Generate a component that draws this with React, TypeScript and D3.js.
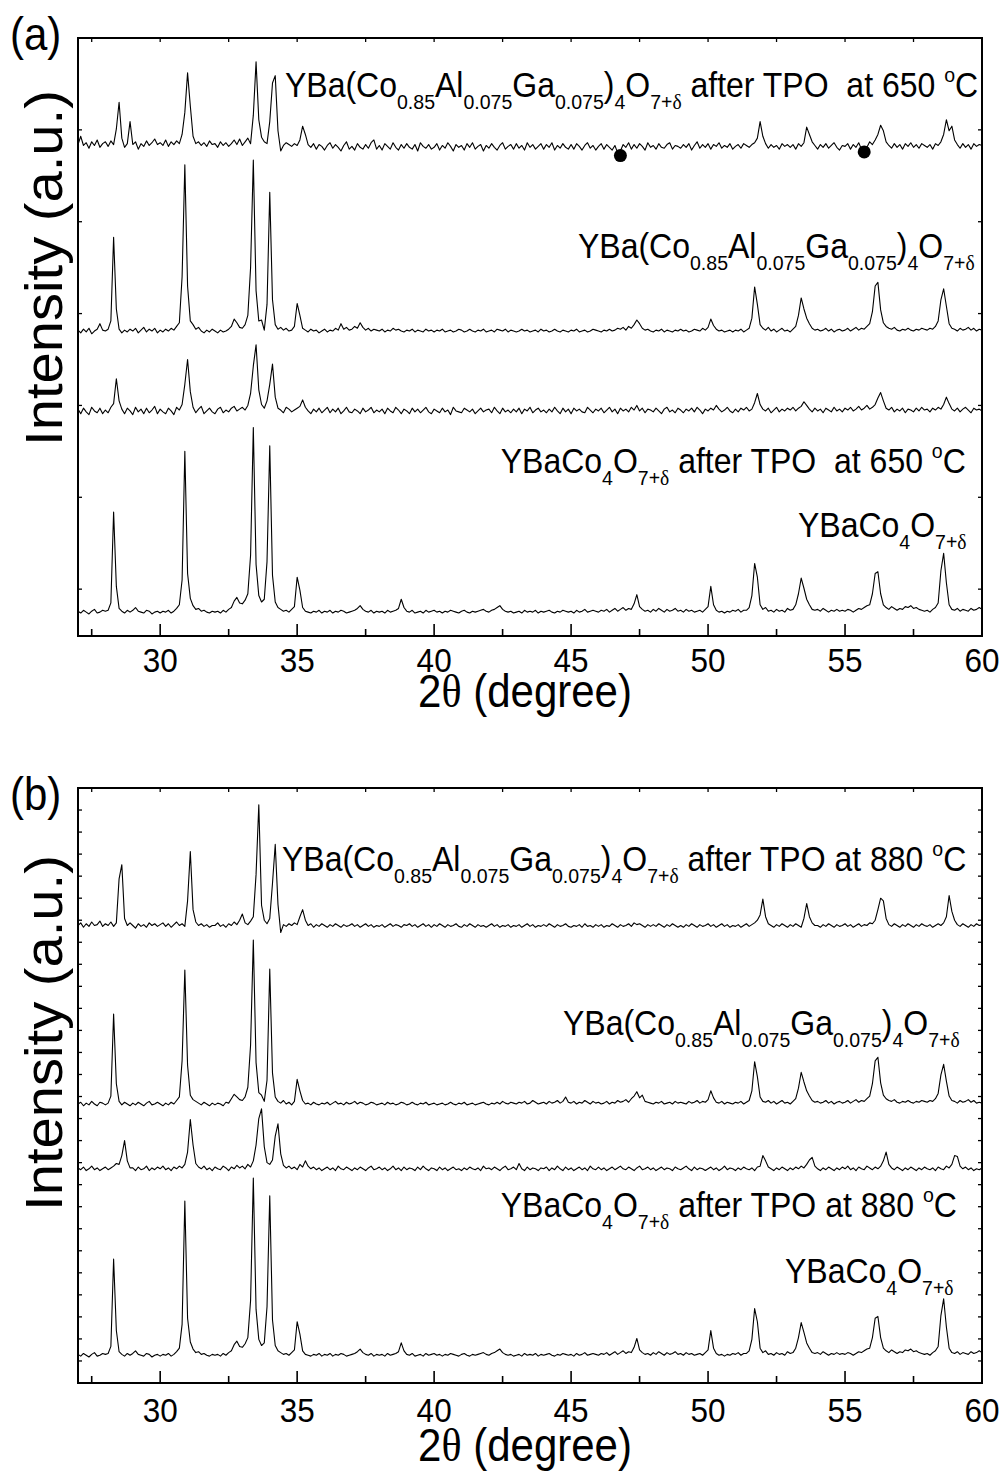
import React from 'react';
import * as d3 from 'd3';

// 2θ sampling of every pattern
const START = 27.0;
const STEP = 0.1;

// Intensities (a.u., relative to each pattern's own baseline), 27.0° … 60.0° every 0.1°
// YBaCo4O7+δ (as prepared) – shown in (a) and (b)
const pristine: number[] = [
  1,-1,2,0,-2,1,3,-1,0,2,
  1,2,10,109,28,4,1,-1,2,0,
  2,5,1,0,-1,2,1,-2,0,1,
  -1,1,0,2,-1,1,4,8,35,175,
  42,15,7,3,4,1,2,0,-1,1,
  0,1,-1,2,0,3,5,12,16,10,
  9,13,20,62,201,52,18,11,14,55,
  181,40,11,5,3,1,2,0,3,6,
  38,24,5,1,0,-1,1,0,2,-1,
  1,0,2,-1,1,0,2,1,-1,0,
  1,2,4,7,3,1,0,2,-1,1,
  0,1,-1,2,0,1,2,4,14,5,
  1,0,2,-1,0,1,-1,2,0,1,
  2,0,1,-1,1,0,2,1,0,-1,
  1,2,0,-1,1,0,1,2,3,1,
  0,2,3,5,7,3,1,0,1,-1,
  0,1,-1,2,0,1,0,2,-1,1,
  0,1,2,0,-1,1,0,2,1,0,
  1,-1,2,0,1,3,0,1,2,1,
  0,2,1,3,0,2,4,1,3,5,
  2,4,3,9,19,6,3,1,2,0,
  3,1,4,2,0,3,1,2,4,1,
  2,0,3,1,2,0,1,2,0,3,
  6,28,8,2,0,1,-1,1,0,2,
  1,3,0,2,2,5,18,53,38,8,
  3,5,1,2,0,3,1,2,0,4,
  2,3,8,20,37,26,14,8,3,2,
  3,1,4,2,0,2,1,3,1,2,
  1,3,2,0,2,4,3,5,7,8,
  20,42,44,20,8,5,3,6,4,2,
  4,3,6,5,7,4,5,3,2,1,
  2,0,3,5,10,45,64,32,8,3,
  2,4,1,3,2,1,4,2,3,5,
  3,
];

// YBa(Co0.85Al0.075Ga0.075)4O7+δ (as prepared) – panel (a)
const alGaA: number[] = [
  2,-1,3,0,4,-2,1,3,9,2,
  1,3,12,103,25,3,-1,2,0,3,
  1,4,-1,2,5,0,3,1,4,-1,
  2,0,3,1,4,2,6,10,60,182,
  50,12,8,3,5,1,-1,2,0,3,
  1,-1,2,0,1,3,6,14,10,5,
  4,8,18,70,187,45,12,13,2,30,
  152,35,8,3,5,2,4,1,2,6,
  31,18,4,2,0,3,1,2,-1,1,
  3,0,2,1,4,2,9,3,5,2,
  3,6,4,10,5,2,4,1,3,2,
  1,3,0,2,1,4,2,3,1,0,
  2,1,3,0,2,1,0,3,1,2,
  0,2,1,3,0,1,2,0,1,3,
  2,0,1,3,1,0,2,1,3,0,
  1,2,0,3,2,1,3,0,2,1,
  0,1,3,1,2,0,1,2,0,3,
  1,2,0,1,3,1,0,2,1,0,
  2,1,3,0,1,2,0,1,3,2,
  1,0,2,1,3,1,2,4,3,5,
  2,6,4,8,13,9,4,2,3,1,
  0,2,1,3,0,2,1,0,2,1,
  3,1,2,0,1,3,2,1,4,2,
  5,14,7,3,1,2,0,1,2,0,
  2,1,3,0,2,4,15,49,30,8,
  4,2,5,1,3,0,2,4,1,2,
  0,3,6,18,37,25,15,9,4,2,
  3,1,2,4,1,3,0,2,3,1,
  2,4,1,3,5,2,4,3,6,9,
  22,50,54,24,10,6,4,3,5,2,
  1,3,2,4,2,1,3,2,4,3,
  2,4,3,6,12,35,47,28,9,4,
  3,1,4,2,3,5,2,4,1,3,
  2,
];

// YBa(Co0.85Al0.075Ga0.075)4O7+δ (as prepared) – panel (b)
const alGaB: number[] = [
  1,3,-1,2,0,4,1,-1,3,2,
  0,2,10,103,24,4,0,3,1,-1,
  2,0,3,1,-1,2,4,0,1,3,
  1,-1,2,0,3,1,5,9,50,153,
  45,11,6,4,2,0,3,1,-1,2,
  0,2,1,-1,3,2,7,12,9,6,
  5,9,20,68,187,48,14,11,4,28,
  154,36,9,4,2,5,1,3,0,4,
  29,16,5,1,2,0,3,1,0,2,
  1,3,0,2,4,1,2,0,3,1,
  2,4,1,3,2,0,1,3,2,0,
  1,2,0,3,1,2,0,1,3,2,
  0,1,3,1,0,2,1,3,0,1,
  2,0,1,2,0,1,3,1,0,2,
  1,3,0,1,2,0,1,2,3,1,
  0,2,1,3,1,4,2,1,3,2,
  1,3,2,4,1,2,5,3,1,2,
  3,1,4,2,3,5,2,4,9,3,
  2,4,1,3,2,5,3,1,4,2,
  3,1,2,4,1,3,2,5,3,4,
  6,3,7,10,15,8,11,4,3,2,
  1,3,2,4,1,2,3,1,4,2,
  3,2,1,4,2,3,5,2,4,3,
  6,16,8,3,2,4,1,3,2,1,
  3,2,4,1,3,5,16,49,32,9,
  4,3,5,2,4,1,3,5,2,3,
  1,4,7,19,37,26,16,10,5,3,
  4,2,3,5,2,4,1,3,4,2,
  3,5,2,4,6,3,5,4,7,10,
  24,50,54,25,11,7,5,4,6,3,
  2,4,3,5,3,2,4,3,5,4,
  3,5,4,7,13,34,46,27,10,5,
  4,2,5,3,4,6,3,5,2,3,
  2,
];

// YBaCo4O7+δ after TPO at 650 °C
const tpo650: number[] = [
  3,-2,4,0,-3,5,1,-1,4,-2,
  2,-1,5,9,36,12,3,-2,4,1,
  -3,5,0,3,-2,4,-1,2,6,-2,
  3,0,-2,4,1,-3,5,2,8,30,
  57,22,5,-1,3,6,-2,1,4,0,
  -2,3,5,-1,2,0,4,6,1,3,
  5,2,7,20,50,73,24,8,4,12,
  30,52,16,4,2,-1,5,3,0,2,
  4,6,13,5,1,-2,3,0,4,-1,
  2,5,-1,3,0,4,-2,1,5,0,
  -1,3,1,-2,4,0,2,5,-1,2,
  0,3,-2,4,1,-1,5,2,-2,3,
  1,-2,4,0,3,-1,2,5,0,-2,
  3,1,-1,4,0,2,-3,5,1,0,
  -1,4,2,0,3,-2,1,4,0,2,
  3,-1,5,1,-2,4,0,2,-1,3,
  0,4,-2,3,1,5,-1,2,4,0,
  2,-1,3,0,5,1,-2,4,0,3,
  -2,4,1,3,0,-1,5,2,-1,3,
  1,4,-1,2,5,0,3,-2,4,1,
  3,0,5,2,7,1,4,-1,3,2,
  0,4,1,-2,3,5,0,2,-1,4,
  2,-1,3,1,4,0,5,2,-2,3,
  1,4,2,7,3,0,2,5,1,-1,
  3,0,4,2,5,1,3,10,20,8,
  3,1,4,-1,2,5,0,3,1,4,
  2,5,1,4,6,11,7,3,0,4,
  1,3,-1,4,2,0,5,1,3,0,
  4,2,5,1,3,6,2,4,7,3,
  5,8,15,21,12,4,2,5,0,3,
  1,4,-1,3,2,0,4,1,5,2,
  3,0,4,2,5,3,8,16,9,3,
  1,4,0,3,5,2,-1,4,2,3,
  1,
];

// YBa(Co0.85Al0.075Ga0.075)4O7+δ after TPO at 650 °C
const alGaTpo650: number[] = [
  3,12,2,5,-1,6,2,8,0,4,
  6,1,7,3,20,49,10,0,4,28,
  3,6,-2,4,1,7,2,5,9,3,
  5,2,8,1,6,3,7,4,14,38,
  81,45,12,4,6,2,5,1,7,3,
  4,0,6,2,5,1,4,8,3,9,
  2,6,10,4,35,93,30,11,6,4,
  28,70,78,18,-4,2,5,3,1,4,
  2,8,23,14,3,0,4,-2,3,1,
  -3,2,5,-1,3,0,-4,2,6,-2,
  1,-3,4,0,-2,3,-1,5,8,-2,
  2,-3,4,1,-2,5,0,-3,3,-1,
  4,0,-2,3,-4,5,1,-1,3,-2,
  0,4,-3,2,-1,5,1,-4,3,0,
  2,-3,4,0,5,-2,1,3,-4,2,
  -1,4,0,-3,2,5,-2,1,3,-2,
  4,-1,2,-3,5,0,3,-2,1,4,
  -2,3,0,5,-3,2,-1,4,0,-2,
  3,-2,4,1,-3,2,5,-1,2,-3,
  1,4,-2,3,0,-3,2,-6,-4,3,
  0,5,-2,3,-1,4,1,-3,5,0,
  2,-2,4,0,-1,3,5,-2,2,1,
  -1,3,0,4,-3,2,6,-1,3,0,
  4,-2,3,1,5,-1,2,0,4,-2,
  1,3,-1,4,2,0,3,5,10,28,
  12,4,-1,3,0,2,-2,4,1,3,
  0,3,-2,4,1,5,22,14,6,2,
  -2,3,0,4,-1,2,5,0,-3,2,
  1,4,-2,3,0,5,-2,-5,0,6,
  3,8,14,24,18,6,2,-1,4,0,
  3,-2,4,1,5,0,3,-1,4,2,
  0,3,-2,4,2,6,14,30,18,23,
  8,3,-1,4,0,3,-2,4,1,3,
  2,
];

// YBaCo4O7+δ after TPO at 880 °C
const tpo880: number[] = [
  4,2,5,1,3,6,2,4,1,3,
  5,2,4,6,9,8,18,35,12,4,
  4,1,5,2,3,6,1,4,2,5,
  3,6,2,4,1,5,3,6,4,8,
  22,59,30,9,5,3,6,2,4,1,
  5,3,2,6,4,1,5,3,7,4,
  6,3,8,5,12,30,60,71,28,10,
  8,13,40,54,20,7,4,6,3,5,
  2,8,5,12,6,3,5,2,4,1,
  3,5,2,4,1,6,3,2,5,3,
  1,4,2,5,3,1,4,6,2,3,
  5,2,4,1,3,6,2,4,1,5,
  2,4,3,1,5,2,6,3,1,4,
  3,1,5,2,4,1,3,5,2,3,
  1,4,2,5,3,2,4,1,6,3,
  4,2,5,3,1,4,6,2,3,5,
  2,9,3,1,5,2,4,3,1,4,
  3,5,1,4,2,6,3,1,5,2,
  4,1,3,5,2,4,1,6,3,2,
  5,2,4,1,3,5,2,4,6,3,
  2,5,3,1,4,6,2,3,5,2,
  4,1,3,5,2,4,3,1,5,3,
  2,4,6,3,1,5,2,4,3,1,
  3,5,2,4,1,3,6,2,4,3,
  1,4,2,5,3,2,4,1,5,6,
  18,12,5,3,1,4,2,5,3,1,
  4,2,5,3,6,4,8,13,16,6,
  3,1,4,2,5,3,1,4,2,5,
  3,6,2,4,1,5,3,2,6,4,
  2,5,3,6,12,22,8,4,2,5,
  3,1,4,2,5,3,1,4,2,5,
  3,2,4,1,5,3,2,6,4,8,
  18,17,6,3,5,2,4,1,3,2,
  4,
];

// YBa(Co0.85Al0.075Ga0.075)4O7+δ after TPO at 880 °C
const alGaTpo880: number[] = [
  2,5,0,4,1,6,2,3,7,1,
  4,2,6,1,5,55,71,10,2,5,
  2,-1,4,1,3,0,5,2,4,1,
  3,5,1,4,0,3,6,2,4,1,
  30,86,20,6,2,4,1,3,0,2,
  2,5,1,3,0,4,2,6,3,8,
  15,5,3,7,12,60,139,25,8,4,
  10,50,94,26,-6,3,1,4,2,5,
  3,12,20,8,2,4,0,3,1,4,
  2,0,3,1,4,2,0,3,1,2,
  4,1,3,0,2,4,1,3,0,2,
  1,3,0,2,4,1,3,2,0,3,
  2,4,1,3,0,2,4,1,3,0,
  3,1,4,2,0,3,1,2,4,1,
  0,3,1,4,2,0,3,1,2,0,
  2,4,1,3,0,2,1,3,0,2,
  1,3,0,2,4,1,3,0,2,1,
  3,1,4,2,0,3,1,2,4,1,
  0,2,1,3,0,4,1,2,0,3,
  1,3,0,2,1,4,2,0,3,1,
  2,4,1,5,3,4,2,0,3,1,
  3,1,4,2,0,3,1,4,2,0,
  2,0,3,1,4,2,0,3,1,2,
  4,1,3,0,2,4,1,3,0,2,
  1,3,0,2,4,1,3,5,8,14,
  32,12,4,2,0,3,1,4,2,0,
  3,1,4,2,0,10,27,12,5,2,
  2,0,3,1,4,2,0,3,1,2,
  4,1,3,0,2,4,1,3,2,5,
  4,8,20,33,30,10,3,1,4,2,
  0,3,1,4,2,0,3,1,4,2,
  1,3,0,2,4,2,5,12,36,18,
  8,3,1,4,2,0,3,1,4,2,
  3,
];

// vertical offsets of the stacked patterns (a.u.), top to bottom
const offsetsA = [481, 280, 193, -25];
const offsetsB = [517, 315.5, 240, 31.5];

// impurity markers on the top pattern of (a)
const dotTheta = [46.8, 55.7];
const dotInt = [-9, -5];

// axis ticks
const xMajor = [30, 35, 40, 45, 50, 55, 60];
const xMinor = [27.5, 32.5, 37.5, 42.5, 47.5, 52.5, 57.5];

type Kind = 'n' | 's' | 'g' | 'u';
type Part = [string, Kind];

const alGaFormula: Part[] = [
  ['YBa(Co', 'n'], ['0.85', 's'], ['Al', 'n'], ['0.075', 's'], ['Ga', 'n'], ['0.075', 's'],
  [')', 'n'], ['4', 's'], ['O', 'n'], ['7+', 's'], ['δ', 'g'],
];
const ybcFormula: Part[] = [['YBaCo', 'n'], ['4', 's'], ['O', 'n'], ['7+', 's'], ['δ', 'g']];
const tpo = (t: string): Part[] => [[` after TPO${t} `, 'n'], ['o', 'u'], ['C', 'n']];

const SANS = '"Liberation Sans", Arial, Helvetica, sans-serif';
const SERIF = '"Liberation Serif", "Times New Roman", serif';
const VS = 1.08; // vertical stretch of lettering

function Formula({ x, y, parts, size = 32 }: { x: number; y: number; parts: Part[]; size?: number }) {
  let cur = 0;
  const small = size * 0.61;
  return (
    <text transform={`translate(${x},${y}) scale(1,${VS})`} fontFamily={SANS} fontSize={size} fill="#000" style={{ whiteSpace: 'pre' }}>
      {parts.map(([t, k], i) => {
        const target = k === 's' || k === 'g' ? 11 : k === 'u' ? -13.5 : 0;
        const dy = target - cur;
        cur = target;
        return (
          <tspan key={i} dy={dy} fontSize={k === 'n' ? size : small} fontFamily={k === 'g' ? SERIF : SANS}>
            {t}
          </tspan>
        );
      })}
    </text>
  );
}

function Label({ x, y, text, size, anchor = 'middle', sy = VS }: { x: number; y: number; text: React.ReactNode; size: number; anchor?: string; sy?: number }) {
  return (
    <text transform={`translate(${x},${y}) scale(1,${sy})`} fontFamily={SANS} fontSize={size} textAnchor={anchor as any} fill="#000">
      {text}
    </text>
  );
}

export default function App() {
  const W = 1004;
  const H = 1472;
  const L = 78;
  const R = 982;
  const x = d3.scaleLinear().domain([27, 60]).range([L, R]);

  const panels = [
    {
      key: 'a',
      y: d3.scaleLinear().domain([-51, 600]).range([636, 38]),
      yTicks: d3.range(0, 601, 100),
      traces: [alGaTpo650, alGaA, tpo650, pristine],
      offsets: offsetsA,
      tag: '(a)', tagY: 50,
      tickY: 671.5, titleY: 707, yTitleC: 268,
      labels: [
        { x: 285, y: 96.7, parts: [...alGaFormula, ...tpo('  at 650')] },
        { x: 578, y: 258, parts: alGaFormula },
        { x: 500.7, y: 472.7, parts: [...ybcFormula, ...tpo('  at 650')] },
        { x: 798, y: 536.7, parts: ybcFormula },
      ],
      dots: true,
    },
    {
      key: 'b',
      y: d3.scaleLinear().domain([0, 675]).range([1383, 788]),
      yTicks: d3.range(0, 676, 25),
      traces: [alGaTpo880, alGaB, tpo880, pristine],
      offsets: offsetsB,
      tag: '(b)', tagY: 810,
      tickY: 1421.7, titleY: 1461, yTitleC: 1033,
      labels: [
        { x: 282, y: 871, parts: [...alGaFormula, ...tpo(' at 880')] },
        { x: 563, y: 1035, parts: alGaFormula },
        { x: 500.7, y: 1216.7, parts: [...ybcFormula, ...tpo(' at 880')] },
        { x: 785, y: 1283, parts: ybcFormula },
      ],
      dots: false,
    },
  ];

  return (
    <svg width={W} height={H} viewBox={`0 0 ${W} ${H}`} style={{ position: 'absolute', left: 0, top: 0, background: '#fff' }}>
      <rect x={0} y={0} width={W} height={H} fill="#fff" />
      {panels.map((p) => {
        const [b, t] = p.y.range();
        const line = (off: number) =>
          d3
            .line<number>()
            .x((_, i) => x(START + i * STEP))
            .y((v) => p.y(v + off));
        return (
          <g key={p.key}>
            {p.traces.map((tr, i) => (
              <path key={i} d={line(p.offsets[i])(tr) || ''} fill="none" stroke="#000" strokeWidth={1.1} strokeLinejoin="round" />
            ))}
            {p.dots &&
              dotTheta.map((d, i) => (
                <circle key={i} cx={x(d)} cy={p.y(dotInt[i] + p.offsets[0])} r={6.5} fill="#000" />
              ))}
            {/* frame */}
            <rect x={L} y={t} width={R - L} height={b - t} fill="none" stroke="#000" strokeWidth={2} />
            {/* x ticks */}
            {xMajor.map((v) => (
              <g key={'M' + v}>
                <line x1={x(v)} x2={x(v)} y1={b} y2={b - 12} stroke="#000" strokeWidth={1.6} />
                <line x1={x(v)} x2={x(v)} y1={t} y2={t + 4} stroke="#000" strokeWidth={1.3} />
                <Label x={x(v)} y={p.tickY} text={String(v)} size={31.5} />
              </g>
            ))}
            {xMinor.map((v) => (
              <g key={'m' + v}>
                <line x1={x(v)} x2={x(v)} y1={b} y2={b - 7} stroke="#000" strokeWidth={1.6} />
                <line x1={x(v)} x2={x(v)} y1={t} y2={t + 4} stroke="#000" strokeWidth={1.3} />
              </g>
            ))}
            {/* y ticks */}
            {p.yTicks.map((v) => (
              <g key={'y' + v}>
                <line x1={L} x2={L + 4} y1={p.y(v)} y2={p.y(v)} stroke="#000" strokeWidth={1.3} />
                <line x1={R} x2={R - 4} y1={p.y(v)} y2={p.y(v)} stroke="#000" strokeWidth={1.3} />
              </g>
            ))}
            {/* annotations */}
            {p.labels.map((l, i) => (
              <Formula key={i} x={l.x} y={l.y} parts={l.parts} />
            ))}
            <Label x={10} y={p.tagY} text={p.tag} size={42} anchor="start" sy={1.1} />
            <text transform={`translate(525,${p.titleY}) scale(1,${VS})`} fontFamily={SANS} fontSize={42} textAnchor="middle">
              2<tspan fontFamily={SERIF}>θ</tspan> (degree)
            </text>
            <text transform={`translate(62,${p.yTitleC}) rotate(-90) scale(${VS},1)`} fontFamily={SANS} fontSize={52} textAnchor="middle">
              Intensity (a.u.)
            </text>
          </g>
        );
      })}
    </svg>
  );
}
